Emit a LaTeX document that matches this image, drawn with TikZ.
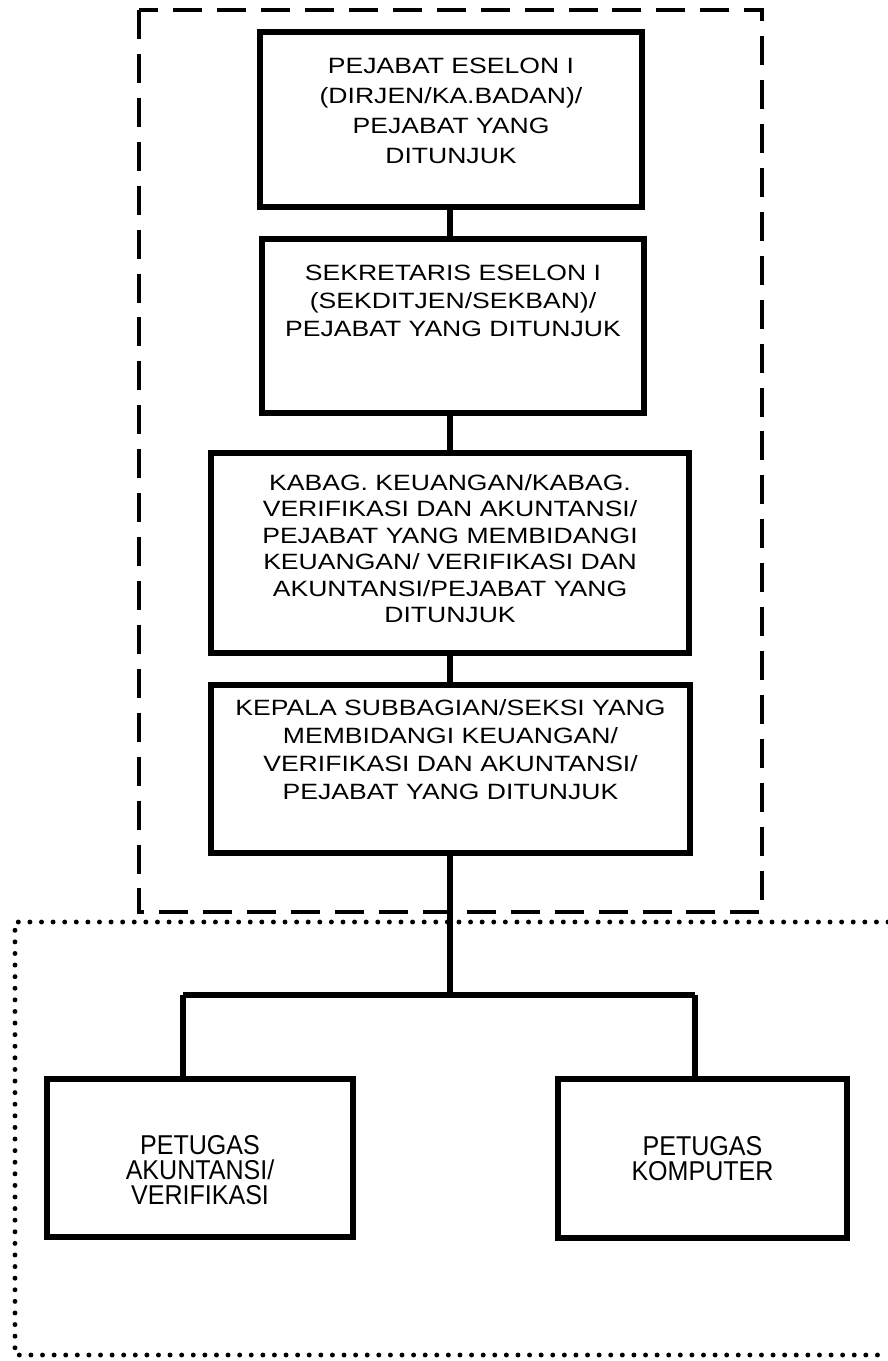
\documentclass[tikz,border=0pt]{standalone}
\usepackage{fontspec}
\setmainfont{Liberation Sans}
\newfontfamily\lebar[FakeStretch=1.2]{Liberation Sans}
\newfontfamily\sempit[FakeStretch=0.92]{Liberation Sans}
\usetikzlibrary{positioning}

\begin{document}
\begin{tikzpicture}[x=0.02cm,y=-0.02cm,font=\lebar\fontsize{12.6}{15.1}\selectfont,
    kotak/.style={draw,line width=3.4pt,align=center,inner sep=0pt},
    bawah/.style={font=\sempit\fontsize{15.5}{14.2}\selectfont},
    garis/.style={line width=3pt},
    putus/.style={line width=2.8pt,dash pattern=on 16.5pt off 8.5pt},
    titik/.style={line width=2.8pt,line cap=round,dash pattern=on 0pt off 6.6pt}]
  \useasboundingbox (0,0) rectangle (888,1361);
  \draw[putus] (139,10) rectangle (762,912);
  \draw[titik] (888,922) -- (15,922) -- (15,1355) -- (888,1355);
  \node[kotak,minimum width=7.64cm,minimum height=3.5cm,text depth=10pt,font=\lebar\fontsize{12.6}{17}\selectfont] (pejabat) at (451,119.5)
    {PEJABAT ESELON I\\(DIRJEN/KA.BADAN)/\\PEJABAT YANG\\DITUNJUK};
  \node[kotak,minimum width=7.64cm,minimum height=3.48cm,text depth=29pt,font=\lebar\fontsize{12.6}{16}\selectfont] (sekretaris) at (453,326)
    {SEKRETARIS ESELON I\\(SEKDITJEN/SEKBAN)/\\PEJABAT YANG DITUNJUK};
  \node[kotak,minimum width=9.56cm,minimum height=4cm,text depth=5pt] (kabag) at (450,553)
    {KABAG. KEUANGAN/KABAG.\\VERIFIKASI DAN AKUNTANSI/\\PEJABAT YANG MEMBIDANGI\\KEUANGAN/ VERIFIKASI DAN\\AKUNTANSI/PEJABAT YANG\\DITUNJUK};
  \node[kotak,minimum width=9.58cm,minimum height=3.36cm,text depth=22pt,font=\lebar\fontsize{12.6}{16}\selectfont] (kasubag) at (450.5,769)
    {KEPALA SUBBAGIAN/SEKSI YANG\\MEMBIDANGI KEUANGAN/\\VERIFIKASI DAN AKUNTANSI/\\PEJABAT YANG DITUNJUK};
  \node[kotak,bawah,minimum width=6.12cm,minimum height=3.16cm] (akuntansi) at (200,1158)
    {\rule{0pt}{25pt}PETUGAS\\AKUNTANSI/\\VERIFIKASI};
  \node[kotak,bawah,minimum width=5.78cm,minimum height=3.18cm] (komputer) at (702.5,1158.5)
    {PETUGAS\\KOMPUTER};
  \coordinate (cabang) at (450,995);
  \coordinate (kiri) at (183,995);
  \coordinate (kanan) at (695,995);
  \draw[garis] (pejabat.south -| cabang) -- (sekretaris.north -| cabang);
  \draw[garis] (sekretaris.south -| cabang) -- (kabag.north -| cabang);
  \draw[garis] (kabag.south -| cabang) -- (kasubag.north -| cabang);
  \draw[garis] (kasubag.south -| cabang) -- (cabang);
  \draw[garis] (kiri) -- (kanan);
  \draw[garis] (kiri) -- (kiri |- akuntansi.north);
  \draw[garis] (kanan) -- (kanan |- komputer.north);
\end{tikzpicture}
\end{document}
